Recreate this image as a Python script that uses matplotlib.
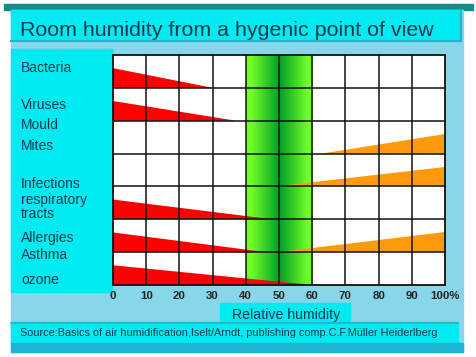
#!/usr/bin/python3

"""room humidity chart - hygienic optimum zone"""
import numpy as np
import matplotlib
matplotlib.use("Agg")
import matplotlib.pyplot as plt
from matplotlib.patches import Rectangle

# data
ticks = [0, 10, 20, 30, 40, 50, 60, 70, 80, 90, 100]
tick_labels = ["0", "10", "20", "30", "40", "50", "60", "70", "80", "90", "100%"]
n_rows = 7
# red wedges: (row, end of wedge in %), falling from 0 %
red_rows = [0, 1, 4, 5, 6]
red_ends = [30, 37, 48, 46, 60]
# orange wedges: (row, start of wedge in %), rising to 100 %
orange_rows = [2, 3, 5]
orange_starts = [62, 50, 50]
wedge_height = 0.6
optimum = (40, 60)

labels = ["Bacteria", "Viruses", "Mould", "Mites", "Infections", "respiratory",
          "tracts", "Allergies", "Asthma", "ozone"]
label_y = [68, 105, 125, 146, 184, 200, 214, 238, 255, 280]

CYAN = "#00eaf2"
LIGHT = "#88d6ea"
TEAL = "#178c8c"
STRIPE = "#1eb4d4"
TXT = "#123a4c"

plt.rcParams["font.family"] = ["Liberation Sans", "DejaVu Sans"]


def main():
    fig = plt.figure(figsize=(4.77, 3.57), dpi=100)
    fig.patch.set_facecolor("white")

    # background panels in pixel coords
    bg = fig.add_axes([0, 0, 1, 1])
    bg.set_xlim(0, 477)
    bg.set_ylim(357, 0)
    bg.axis("off")
    bg.add_patch(Rectangle((4, 4), 469, 6, color=TEAL))
    bg.add_patch(Rectangle((11, 10), 452, 342, color=LIGHT))
    bg.add_patch(Rectangle((11, 10), 450, 31, color=CYAN))
    bg.plot([11, 461, 461], [41, 41, 10], color="#2fb0c2", lw=1.5)
    bg.add_patch(Rectangle((11, 49), 101, 243, color=CYAN))
    bg.add_patch(Rectangle((220, 303), 130, 20, color=CYAN))
    bg.add_patch(Rectangle((11, 322), 447, 21, color=CYAN))
    bg.plot([11, 458], [322.5, 322.5], color="#2fb0c2", lw=1.2)
    bg.add_patch(Rectangle((11, 343), 452, 9, color=STRIPE))

    bg.text(20, 36, "Room humidity from a hygenic point of view", fontsize=15.4,
            color=TXT, va="baseline", ha="left")
    for lab, y in zip(labels, label_y):
        bg.text(21, y, lab, fontsize=10, color=TXT, va="center", ha="left")
    bg.text(286, 315, "Relative humidity", fontsize=10.2, color=TXT,
            va="center", ha="center")
    bg.text(20, 333, "Source:Basics of air humidification,Iselt/Arndt, "
            "publishing comp.C.F.M\u00fcller Heiderlberg", fontsize=7.85,
            color=TXT, va="center", ha="left")

    # the chart grid
    ax = fig.add_axes([113 / 477, (357 - 285) / 357, 332 / 477, 230 / 357])
    ax.set_xlim(0, 100)
    ax.set_ylim(n_rows, 0)
    ax.set_facecolor("white")

    # optimum band with a dark centre
    xs = np.linspace(optimum[0], optimum[1], 200)
    d = np.clip(np.abs(xs - 50) / 8.5, 0, 1)
    lime = np.array([0.45, 1.0, 0.15])
    dark = np.array([0.0, 0.62, 0.15])
    grad = dark[None, :] * (1 - d[:, None]) + lime[None, :] * d[:, None]
    ax.imshow(grad[None, :, :], extent=[optimum[0], optimum[1], n_rows, 0],
              aspect="auto", zorder=1, interpolation="bilinear")

    for r, e in zip(red_rows, red_ends):
        ax.fill([0, 0, e], [r + 1, r + 1 - wedge_height, r + 1],
                color="#ff0000", lw=0, zorder=2)
    for r, s in zip(orange_rows, orange_starts):
        ax.fill([s, 100, 100], [r + 1, r + 1, r + 1 - wedge_height],
                color="#ff9a0a", lw=0, zorder=2)

    for x in ticks[1:-1]:
        ax.axvline(x, color="#111111", lw=1.1, zorder=3)
    for y in range(1, n_rows):
        ax.axhline(y, color="#111111", lw=1.1, zorder=3)
    for s in ax.spines.values():
        s.set_color("#111111")
        s.set_linewidth(1.3)
        s.set_zorder(4)

    ax.set_yticks([])
    ax.set_xticks(ticks)
    ax.set_xticklabels(tick_labels, fontsize=8.2, fontweight="bold", color="#222222")
    ax.tick_params(axis="x", length=0, pad=4.5)

    fig.savefig("out.png", dpi=100)


if __name__ == '__main__':
    main()
